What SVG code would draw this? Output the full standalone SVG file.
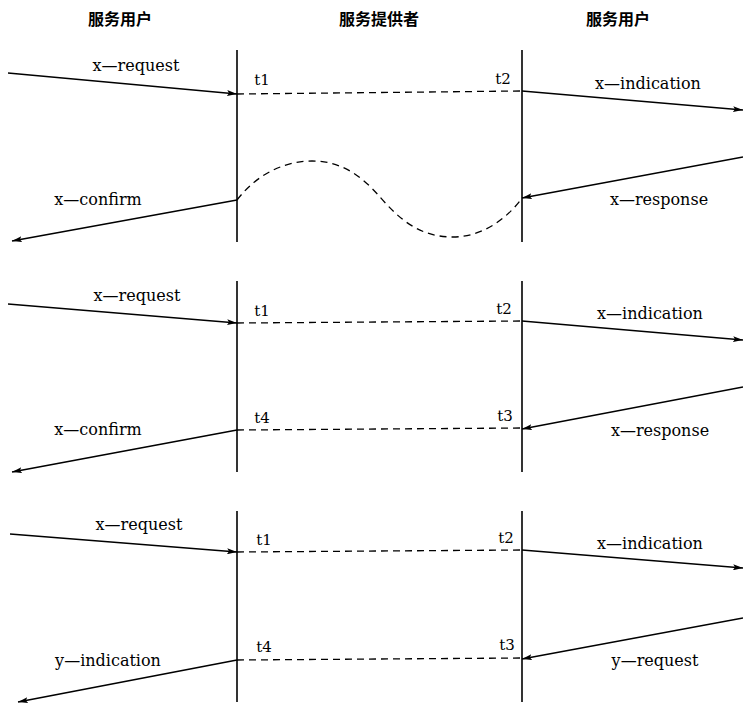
<svg xmlns="http://www.w3.org/2000/svg" width="743" height="705" viewBox="0 0 743 705">
<defs>
<marker id="ah" viewBox="0 0 10 6" refX="10" refY="3" markerWidth="10" markerHeight="6" markerUnits="userSpaceOnUse" orient="auto">
<path d="M0,0 L10,3 L0,6 L2,3 Z" fill="#000"/>
</marker>
<style>
.hd{font-family:"Noto Sans CJK SC",sans-serif;font-size:16px;font-weight:bold;text-anchor:middle;fill:#000}
.lb{font-family:"DejaVu Serif","Liberation Serif",serif;font-size:16px;fill:#000;text-anchor:middle}
.tl{font-family:"DejaVu Serif","Liberation Serif",serif;font-size:15px;fill:#000;text-anchor:middle}
.life{stroke:#000;stroke-width:1.6;fill:none}
.arr{stroke:#000;stroke-width:1.6;fill:none;marker-end:url(#ah)}
.dash{stroke:#000;stroke-width:1.3;fill:none;stroke-dasharray:7,5}
</style>
</defs>
<rect width="743" height="705" fill="#fff"/>
<g id="headers">
<text class="hd" x="120" y="25">服务用户</text>
<text class="hd" x="379" y="25">服务提供者</text>
<text class="hd" x="618" y="25">服务用户</text>
</g>
<g id="lifelines">
<line class="life" x1="237" y1="50" x2="237" y2="242"/>
<line class="life" x1="522" y1="50" x2="522" y2="242"/>
<line class="life" x1="237" y1="281" x2="237" y2="472"/>
<line class="life" x1="522" y1="281" x2="522" y2="472"/>
<line class="life" x1="237" y1="511" x2="237" y2="702"/>
<line class="life" x1="522" y1="511" x2="522" y2="702"/>
</g>
<g id="connectors">
<line class="arr" x1="8" y1="73" x2="237" y2="94"/>
<line class="dash" x1="237" y1="94" x2="522" y2="91"/>
<line class="arr" x1="522" y1="91" x2="743" y2="110"/>
<line class="arr" x1="743" y1="157" x2="522" y2="198"/>
<line class="arr" x1="237" y1="200" x2="12" y2="241"/>
<path class="dash" d="M237,200 C260,170 290,161 312,161 C345,161 365,180 380,197 C400,220 420,237 453,237 C485,237 510,215 522,198"/>

<line class="arr" x1="8" y1="304" x2="237" y2="323"/>
<line class="dash" x1="237" y1="323" x2="522" y2="321"/>
<line class="arr" x1="522" y1="321" x2="743" y2="340"/>
<line class="arr" x1="743" y1="387" x2="522" y2="429"/>
<line class="dash" x1="237" y1="430" x2="522" y2="428"/>
<line class="arr" x1="237" y1="430" x2="12" y2="472"/>

<line class="arr" x1="10" y1="534" x2="237" y2="552"/>
<line class="dash" x1="237" y1="552" x2="522" y2="550"/>
<line class="arr" x1="522" y1="550" x2="743" y2="568"/>
<line class="arr" x1="743" y1="618" x2="522" y2="659"/>
<line class="dash" x1="237" y1="660" x2="522" y2="658"/>
<line class="arr" x1="237" y1="660" x2="18" y2="702"/>
</g>
<g id="panel1">
<text class="lb" x="136" y="71">x—request</text>
<text class="tl" x="262" y="85">t1</text>
<text class="tl" x="503" y="84">t2</text>
<text class="lb" x="648" y="89">x—indication</text>
<text class="lb" x="98" y="205">x—confirm</text>
<text class="lb" x="659" y="205">x—response</text>
</g>
<g id="panel2">
<text class="lb" x="137" y="301">x—request</text>
<text class="tl" x="262" y="316">t1</text>
<text class="tl" x="504" y="314">t2</text>
<text class="lb" x="650" y="319">x—indication</text>
<text class="tl" x="262" y="423">t4</text>
<text class="tl" x="505" y="421">t3</text>
<text class="lb" x="98" y="435">x—confirm</text>
<text class="lb" x="660" y="436">x—response</text>
</g>
<g id="panel3">
<text class="lb" x="139" y="530">x—request</text>
<text class="tl" x="264" y="545">t1</text>
<text class="tl" x="506" y="543">t2</text>
<text class="lb" x="650" y="549">x—indication</text>
<text class="tl" x="264" y="652">t4</text>
<text class="tl" x="507" y="650">t3</text>
<text class="lb" x="108" y="666">y—indication</text>
<text class="lb" x="655" y="666">y—request</text>
</g>
</svg>
